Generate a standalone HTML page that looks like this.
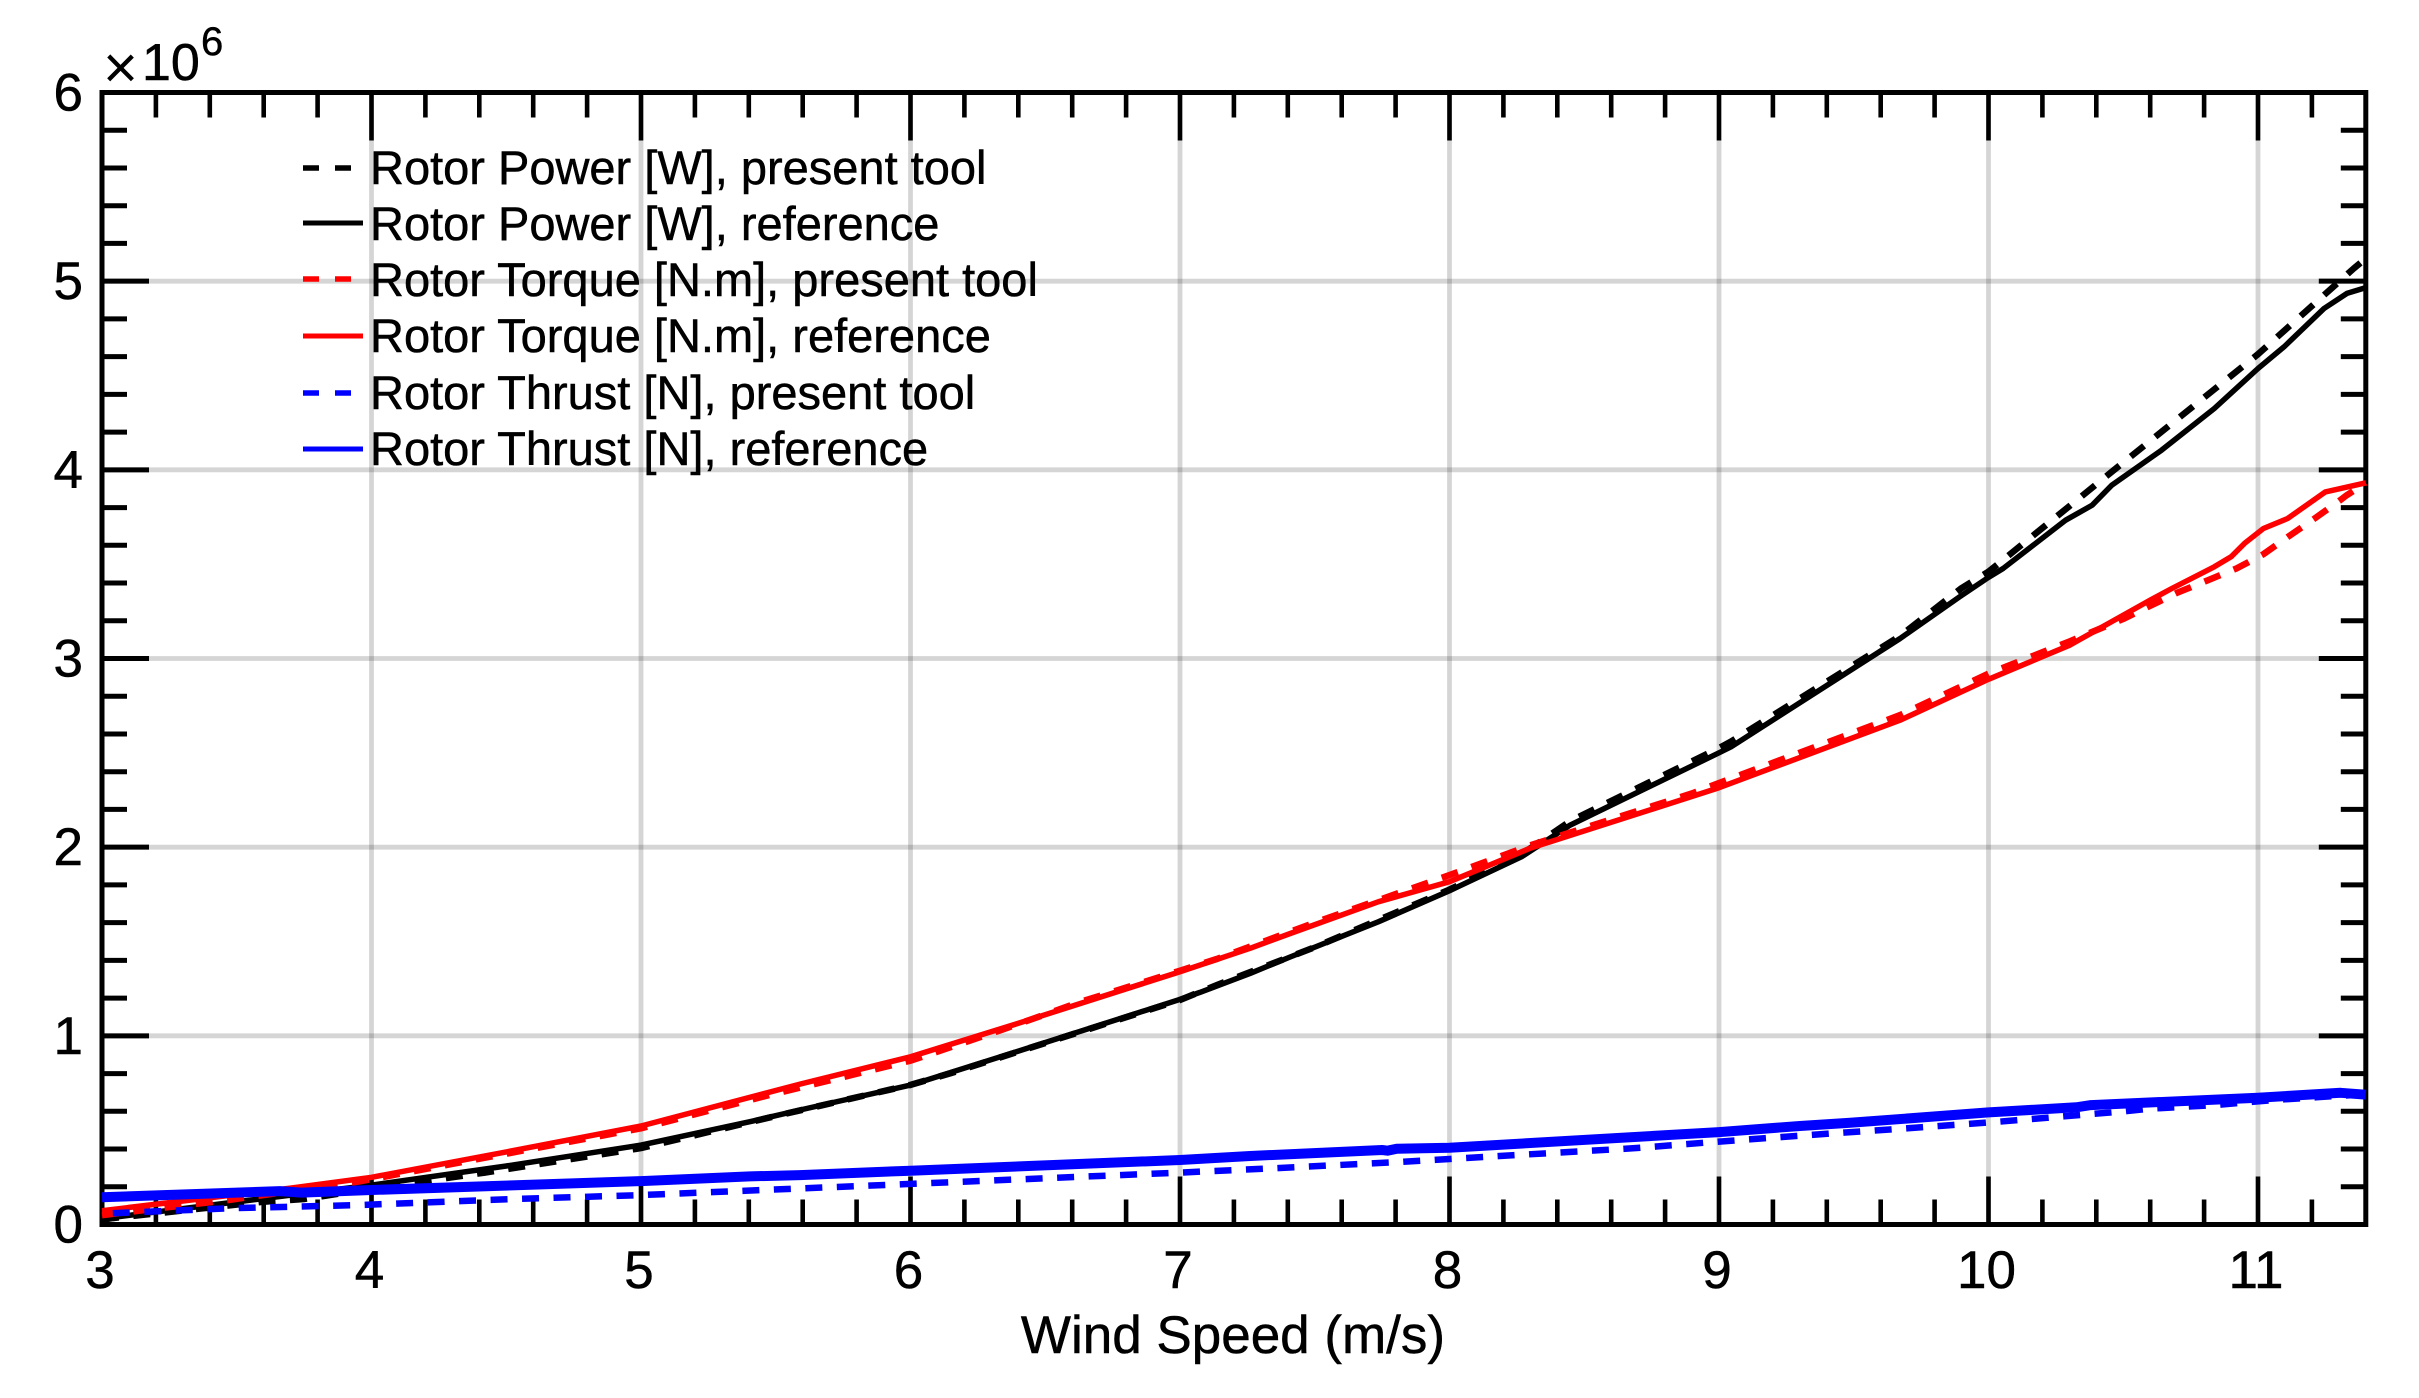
<!DOCTYPE html>
<html>
<head>
<meta charset="utf-8">
<title>Rotor Power, Torque and Thrust vs Wind Speed</title>
<style>
html,body{margin:0;padding:0;background:#fff;}
svg{display:block;font-family:"Liberation Sans",Arial,sans-serif;}
text{stroke:#000;stroke-width:0.5px;}
</style>
</head>
<body>
<svg id="chart" width="2419" height="1398" viewBox="0 0 2419 1398" xmlns="http://www.w3.org/2000/svg">
  <rect width="2419" height="1398" fill="#fff"/>
  <g id="grid"></g>
  <g id="axes"></g>
  <g id="series"></g>
  <text x="1233" y="1353" font-size="53" text-anchor="middle" fill="#000">Wind Speed (m/s)</text>
  <g fill="#000">
    <text x="103" y="88" font-size="60" style="stroke-width:0">×</text>
    <text x="142" y="80" font-size="52">10</text>
    <text x="201" y="55" font-size="40">6</text>
  </g>
  <g font-size="47" fill="#000">
    <g>
      <line x1="303" x2="351" y1="168" y2="168" stroke="#000" stroke-width="5.5" stroke-dasharray="16 16"/>
      <text x="370" y="184">Rotor Power [W], present tool</text>
    </g>
    <g>
      <line x1="303" x2="363" y1="223" y2="223" stroke="#000" stroke-width="5"/>
      <text x="370" y="240">Rotor Power [W], reference</text>
    </g>
    <g>
      <line x1="303" x2="351" y1="279" y2="279" stroke="#f00" stroke-width="5.5" stroke-dasharray="16 16"/>
      <text x="370" y="296">Rotor Torque [N.m], present tool</text>
    </g>
    <g>
      <line x1="303" x2="363" y1="336" y2="336" stroke="#f00" stroke-width="5"/>
      <text x="370" y="352">Rotor Torque [N.m], reference</text>
    </g>
    <g>
      <line x1="303" x2="351" y1="393" y2="393" stroke="#00f" stroke-width="5.5" stroke-dasharray="16 16"/>
      <text x="370" y="409">Rotor Thrust [N], present tool</text>
    </g>
    <g>
      <line x1="303" x2="363" y1="449" y2="449" stroke="#00f" stroke-width="5"/>
      <text x="370" y="465">Rotor Thrust [N], reference</text>
    </g>
  </g>
</svg>
<script>
// Tick labels
const xTickLabels = [3, 4, 5, 6, 7, 8, 9, 10, 11];
const yTickLabels = [0, 1, 2, 3, 4, 5, 6];
const xMinorTicks = [3.2, 3.4, 3.6, 3.8, 4.2, 4.4, 4.6, 4.8, 5.2, 5.4, 5.6, 5.8, 6.2, 6.4, 6.6, 6.8, 7.2, 7.4, 7.6, 7.8, 8.2, 8.4, 8.6, 8.8, 9.2, 9.4, 9.6, 9.8, 10.2, 10.4, 10.6, 10.8, 11.2];
const yMinorTicks = [0.2, 0.4, 0.6, 0.8, 1.2, 1.4, 1.6, 1.8, 2.2, 2.4, 2.6, 2.8, 3.2, 3.4, 3.6, 3.8, 4.2, 4.4, 4.6, 4.8, 5.2, 5.4, 5.6, 5.8];

// Series data: wind speed (m/s) and value (x 10^6)
const powerPresentWind = [3, 3.04, 3.6, 3.75, 4, 4.42, 5, 5.5, 6, 6.147, 7, 7.136, 7.5, 8, 8.27, 8.45, 9, 9.045, 9.672, 9.9, 10, 10.458, 11, 11.355, 11.4];
const powerPresentValues = [0.025, 0.034, 0.121, 0.135, 0.19, 0.275, 0.405, 0.575, 0.74, 0.801, 1.19, 1.269, 1.47, 1.775, 1.965, 2.14, 2.525, 2.56, 3.12, 3.373, 3.46, 3.99, 4.613, 5.067, 5.12];

const powerReferenceWind = [3, 3.7, 4, 4.5, 5, 5.404, 5.59, 6, 6.393, 7, 7.074, 7.26, 7.404, 7.737, 8, 8.267, 8.448, 9, 9.045, 9.672, 9.893, 10, 10.054, 10.286, 10.385, 10.458, 10.642, 10.838, 11, 11.097, 11.245, 11.33, 11.4];
const powerReferenceValues = [0.03, 0.156, 0.209, 0.31, 0.421, 0.545, 0.607, 0.739, 0.916, 1.193, 1.23, 1.331, 1.415, 1.605, 1.769, 1.949, 2.117, 2.5, 2.532, 3.106, 3.327, 3.43, 3.477, 3.733, 3.813, 3.919, 4.104, 4.325, 4.537, 4.652, 4.855, 4.935, 4.966];

const torquePresentWind = [3, 3.47, 3.95, 5, 5.45, 6, 6.33, 6.63, 7, 7.136, 7.5, 8, 8.3, 8.9, 9, 9.672, 10, 10.3, 10.5, 10.7, 10.814, 10.92, 11.02, 11.115, 11.21, 11.305, 11.33, 11.4];
const torquePresentValues = [0.05, 0.13, 0.227, 0.51, 0.677, 0.868, 1.027, 1.18, 1.345, 1.407, 1.6, 1.852, 2.01, 2.285, 2.34, 2.7, 2.92, 3.09, 3.21, 3.348, 3.415, 3.477, 3.553, 3.649, 3.742, 3.839, 3.866, 3.93];

const torqueReferenceWind = [3, 3.7, 4, 4.5, 5, 5.59, 6, 6.393, 7, 7.26, 7.404, 7.737, 8, 8.3, 8.896, 9, 9.672, 10, 10.3, 10.605, 10.68, 10.838, 10.9, 10.95, 11.02, 11.11, 11.25, 11.39, 11.4];
const torqueReferenceValues = [0.073, 0.193, 0.25, 0.385, 0.522, 0.744, 0.889, 1.063, 1.34, 1.464, 1.54, 1.711, 1.817, 1.995, 2.267, 2.315, 2.673, 2.89, 3.07, 3.313, 3.371, 3.486, 3.539, 3.61, 3.689, 3.742, 3.883, 3.928, 3.93];

const thrustPresentWind = [3.04, 3.49, 3.95, 4.53, 5, 5.47, 6, 7, 7.345, 7.806, 8.04, 8.68, 8.97, 9.32, 9.44, 9.675, 10.02, 10.25, 10.37, 10.49, 10.6, 10.84, 11.06, 11.29, 11.4];
const thrustPresentValues = [0.06, 0.087, 0.103, 0.135, 0.156, 0.184, 0.215, 0.275, 0.298, 0.331, 0.351, 0.404, 0.436, 0.473, 0.485, 0.508, 0.543, 0.57, 0.584, 0.598, 0.614, 0.633, 0.66, 0.681, 0.69];

const thrustReferenceWind = [3, 3.66, 3.74, 4, 5, 5.404, 5.59, 6, 7, 7.26, 7.75, 7.77, 7.806, 8, 9, 9.3, 9.487, 10, 10.326, 10.38, 11, 11.307, 11.4];
const thrustReferenceValues = [0.144, 0.177, 0.169, 0.183, 0.23, 0.255, 0.262, 0.285, 0.342, 0.363, 0.395, 0.391, 0.402, 0.407, 0.49, 0.522, 0.539, 0.594, 0.621, 0.633, 0.672, 0.698, 0.688];

const SVG_NS = 'http://www.w3.org/2000/svg';
const xMin = 3, xMax = 11.4, yMax = 6;
const plotLeft = 102, plotTop = 92.5, plotBottom = 1224.5;
const xUnit = 269.5, yUnit = (plotBottom - plotTop) / yMax;
const plotRight = plotLeft + (xMax - xMin) * xUnit;

function xScale(v) { return plotLeft + (v - xMin) * xUnit; }
function yScale(v) { return plotBottom - v * yUnit; }

function line(parent, x1, y1, x2, y2, color, width) {
  const el = document.createElementNS(SVG_NS, 'line');
  el.setAttribute('x1', x1);
  el.setAttribute('y1', y1);
  el.setAttribute('x2', x2);
  el.setAttribute('y2', y2);
  el.setAttribute('stroke', color);
  el.setAttribute('stroke-width', width);
  parent.appendChild(el);
  return el;
}

const gridLayer = document.getElementById('grid');
const axesLayer = document.getElementById('axes');
const seriesLayer = document.getElementById('series');

xTickLabels.forEach(function (v) {
  if (v === xMin) return;
  const g = line(gridLayer, xScale(v), plotTop, xScale(v), plotBottom, 'rgba(0,0,0,0.165)', 4.8);
  
  
});
yTickLabels.forEach(function (v) {
  if (v === 0 || v === yMax) return;
  const g = line(gridLayer, plotLeft, yScale(v), plotRight, yScale(v), 'rgba(0,0,0,0.165)', 4.8);
  
  
});

function xTick(v, len) {
  const a = line(axesLayer, xScale(v), plotBottom, xScale(v), plotBottom - len, '#000', 4.6);
  
  
  const b = line(axesLayer, xScale(v), plotTop, xScale(v), plotTop + len, '#000', 4.6);
  
  
}
function yTick(v, len) {
  const a = line(axesLayer, plotLeft, yScale(v), plotLeft + len, yScale(v), '#000', 5);
  
  
  const b = line(axesLayer, plotRight, yScale(v), plotRight - len, yScale(v), '#000', 5);
  
  
}
xMinorTicks.forEach(function (v) { xTick(v, 25); });
yMinorTicks.forEach(function (v) { yTick(v, 25); });
xTickLabels.forEach(function (v) { xTick(v, 48); });
yTickLabels.forEach(function (v) { yTick(v, 47); });

const frame = document.createElementNS(SVG_NS, 'rect');
frame.setAttribute('x', plotLeft);
frame.setAttribute('y', plotTop);
frame.setAttribute('width', plotRight - plotLeft);
frame.setAttribute('height', plotBottom - plotTop);
frame.setAttribute('fill', 'none');
frame.setAttribute('stroke', '#000');
frame.setAttribute('stroke-width', 5);


axesLayer.appendChild(frame);

xTickLabels.forEach(function (v) {
  const t = document.createElementNS(SVG_NS, 'text');
  t.setAttribute('x', xScale(v) - 2);
  t.setAttribute('y', 1288);
  t.setAttribute('font-size', 53);
  t.setAttribute('text-anchor', 'middle');
  
  
  t.textContent = v;
  axesLayer.appendChild(t);
});
yTickLabels.forEach(function (v) {
  const t = document.createElementNS(SVG_NS, 'text');
  t.setAttribute('x', 83);
  t.setAttribute('y', yScale(v) + 18);
  t.setAttribute('font-size', 53);
  t.setAttribute('text-anchor', 'end');
  
  
  t.textContent = v;
  axesLayer.appendChild(t);
});

function drawSeries(wind, values, color, width, dashed, name) {
  const p = document.createElementNS(SVG_NS, 'polyline');
  const pts = wind.map(function (w, i) { return xScale(w).toFixed(1) + ',' + yScale(values[i]).toFixed(1); });
  p.setAttribute('points', pts.join(' '));
  p.setAttribute('fill', 'none');
  p.setAttribute('stroke', color);
  p.setAttribute('stroke-width', width);
  p.setAttribute('stroke-linejoin', 'round');
  if (dashed) p.setAttribute('stroke-dasharray', '17 14.5');
  
  
  seriesLayer.appendChild(p);
}

drawSeries(powerPresentWind, powerPresentValues, '#000', 6.5, true, 'rotor-power-present-line');
drawSeries(powerReferenceWind, powerReferenceValues, '#000', 5.5, false, 'rotor-power-reference-line');
drawSeries(torquePresentWind, torquePresentValues, '#f00', 6.5, true, 'rotor-torque-present-line');
drawSeries(torqueReferenceWind, torqueReferenceValues, '#f00', 5.5, false, 'rotor-torque-reference-line');
drawSeries(thrustPresentWind, thrustPresentValues, '#00f', 6.5, true, 'rotor-thrust-present-line');
drawSeries(thrustReferenceWind, thrustReferenceValues, '#00f', 10, false, 'rotor-thrust-reference-line');
</script>
</body>
</html>
